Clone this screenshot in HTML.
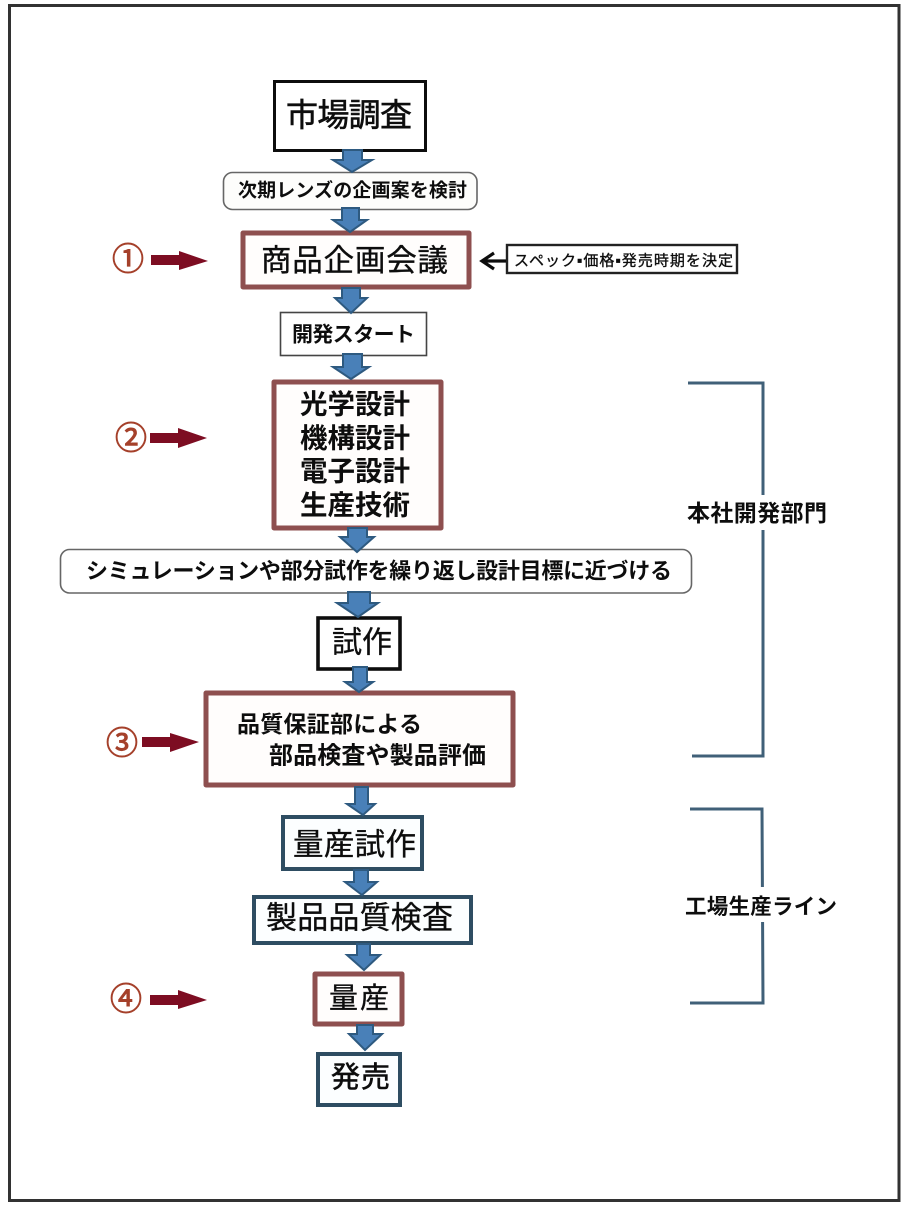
<!DOCTYPE html>
<html lang="ja"><head><meta charset="utf-8"><title>開発フロー</title>
<style>
html,body{margin:0;padding:0;background:#fff;width:907px;height:1207px;overflow:hidden}
svg{display:block}
text{font-family:"Liberation Sans","Noto Sans CJK JP",sans-serif;fill:#111;dominant-baseline:central}
.m{stroke:#111;stroke-width:.6px}
.t{stroke:#111;stroke-width:.35px}
.b{font-weight:700}
.blue{fill:#4a80b8;stroke:#2f5a80;stroke-width:2;stroke-linejoin:miter}
.red{fill:#7d0a22}
.n{fill:#a5412c;font-size:32px;stroke:#a5412c;stroke-width:.9px}
.rb{fill:#fffdfc;stroke:#8e4f4f;stroke-width:5;stroke-linejoin:round}
.bb{fill:#fcfeff;stroke:#2f4d62;stroke-width:4}
.br{fill:none;stroke:#3f6078;stroke-width:3}
</style></head><body>
<svg width="907" height="1207" viewBox="0 0 907 1207" xmlns="http://www.w3.org/2000/svg">
<defs><filter id="s" x="0" y="0" width="100%" height="100%"><feGaussianBlur stdDeviation="0.35"/></filter></defs>
<g filter="url(#s)">
<rect width="907" height="1207" fill="#fff"/>
<rect x="9.5" y="5.5" width="889.5" height="1195" fill="#fff" stroke="#333" stroke-width="3"/>

<!-- boxes -->
<rect x="274.5" y="81.5" width="151" height="69" fill="#fff" stroke="#111" stroke-width="3"/>
<rect x="223.5" y="172.5" width="253.500" height="37" rx="9" fill="#fdfdfb" stroke="#666" stroke-width="1.6"/>
<rect class="rb" x="243" y="233" width="226" height="54"/>
<rect x="280.500" y="312.500" width="146" height="43" fill="#fff" stroke="#444" stroke-width="1.6"/>
<rect class="rb" x="274" y="382" width="167" height="146"/>
<rect x="60.500" y="549.500" width="631" height="43.500" rx="9" fill="#fff" stroke="#666" stroke-width="1.6"/>
<rect x="318" y="618" width="82" height="51" fill="#fff" stroke="#111" stroke-width="3.6"/>
<rect class="rb" x="206" y="693" width="307" height="92"/>
<rect class="bb" x="283" y="817" width="139" height="52"/>
<rect class="bb" x="254" y="897" width="217" height="46"/>
<rect class="rb" x="315" y="974" width="87" height="50"/>
<rect class="bb" x="318" y="1054" width="82" height="51"/>

<!-- blue arrows -->
<path class="blue" d="M343 150H362V160H372L352 172L333 160H343Z"/>
<path class="blue" d="M342 208H359V220H367L350 232L333 220H342Z"/>
<path class="blue" d="M342 288H360V298H367L351 313L335 298H342Z"/>
<path class="blue" d="M343 354H362V367H369L351 379L333 367H343Z"/>
<path class="blue" d="M348 528H367V537H374L357 552L340 537H348Z"/>
<path class="blue" d="M348 592H370V603H378L358 617L337 603H348Z"/>
<path class="blue" d="M353 667H367V682H373L359 692L345 682H353Z"/>
<path class="blue" d="M355 787H368V804H375L363 815L347 804H355Z"/>
<path class="blue" d="M354 870H368V882H377L362 895L345 882H354Z"/>
<path class="blue" d="M357 944H370V955H380L364 970L347 955H357Z"/>
<path class="blue" d="M357 1025H373V1034H382L365 1050L349 1034H357Z"/>

<!-- brackets -->
<path class="br" d="M688 383H763V756H692"/>
<path class="br" d="M690 809H762L763 1003H690"/>
<rect x="684" y="495" width="146" height="35" fill="#fff"/>
<rect x="682" y="887" width="158" height="35" fill="#fff"/>

<!-- text -->
<text class="m" x="286" y="115" font-size="32" textLength="126">市場調査</text>
<text class="b" x="238" y="191" font-size="19" textLength="229">次期レンズの企画案を検討</text>
<text class="t" x="261" y="261" font-size="30.500" textLength="187">商品企画会議</text>
<text class="b" x="292" y="335" font-size="21" textLength="123">開発スタート</text>
<text class="b" x="300" y="404" font-size="27.500" textLength="110">光学設計</text>
<text class="b" x="300" y="438" font-size="27.500" textLength="110">機構設計</text>
<text class="b" x="300" y="471" font-size="27.500" textLength="110">電子設計</text>
<text class="b" x="300" y="505" font-size="27.500" textLength="110">生産技術</text>
<text class="b" x="86" y="571" font-size="22" textLength="586">シミュレーションや部分試作を繰り返し設計目標に近づける</text>
<text x="332" y="643" font-size="30" class="t" textLength="60">試作</text>
<text class="b" x="237" y="724" font-size="23" textLength="185">品質保証部による</text>
<text class="b" x="269" y="756" font-size="24" textLength="217">部品検査や製品評価</text>
<text class="t" x="293" y="845" font-size="30.500" textLength="123">量産試作</text>
<text class="t" x="266" y="918" font-size="31" textLength="187">製品品質検査</text>
<text class="t" x="329" y="999" font-size="29" textLength="60">量産</text>
<text class="m" x="331" y="1078" font-size="29" textLength="59">発売</text>
<text class="b" x="687" y="513" font-size="23" textLength="140">本社開発部門</text>
<text class="b" x="685" y="907" font-size="21.500" textLength="152">工場生産ライン</text>

<!-- spec box -->
<rect x="507" y="245" width="230" height="28" fill="#fff" stroke="#222" stroke-width="2.4"/>
<text x="514" y="261" font-size="15" class="t" textLength="219">スペック▪価格▪発売時期を決定</text>
<path d="M506 261H482M494 253L482 261L494 269" fill="none" stroke="#111" stroke-width="3.2"/>

<!-- markers -->
<text class="n" x="112" y="259" textLength="32">①</text>
<text class="n" x="115" y="438" textLength="32">②</text>
<text class="n" x="106" y="743" textLength="32">③</text>
<text class="n" x="110" y="999" textLength="32">④</text>
<path class="red" d="M151 255H179V251L208 261L179 270V265H151Z"/>
<path class="red" d="M150 433H178V428L207 438L178 448V443H150Z"/>
<path class="red" d="M142 737H170V733L199 742L170 752V747H142Z"/>
<path class="red" d="M150 995H178V990L207 1000L178 1009V1005H150Z"/>
</g>
</svg>
</body></html>
